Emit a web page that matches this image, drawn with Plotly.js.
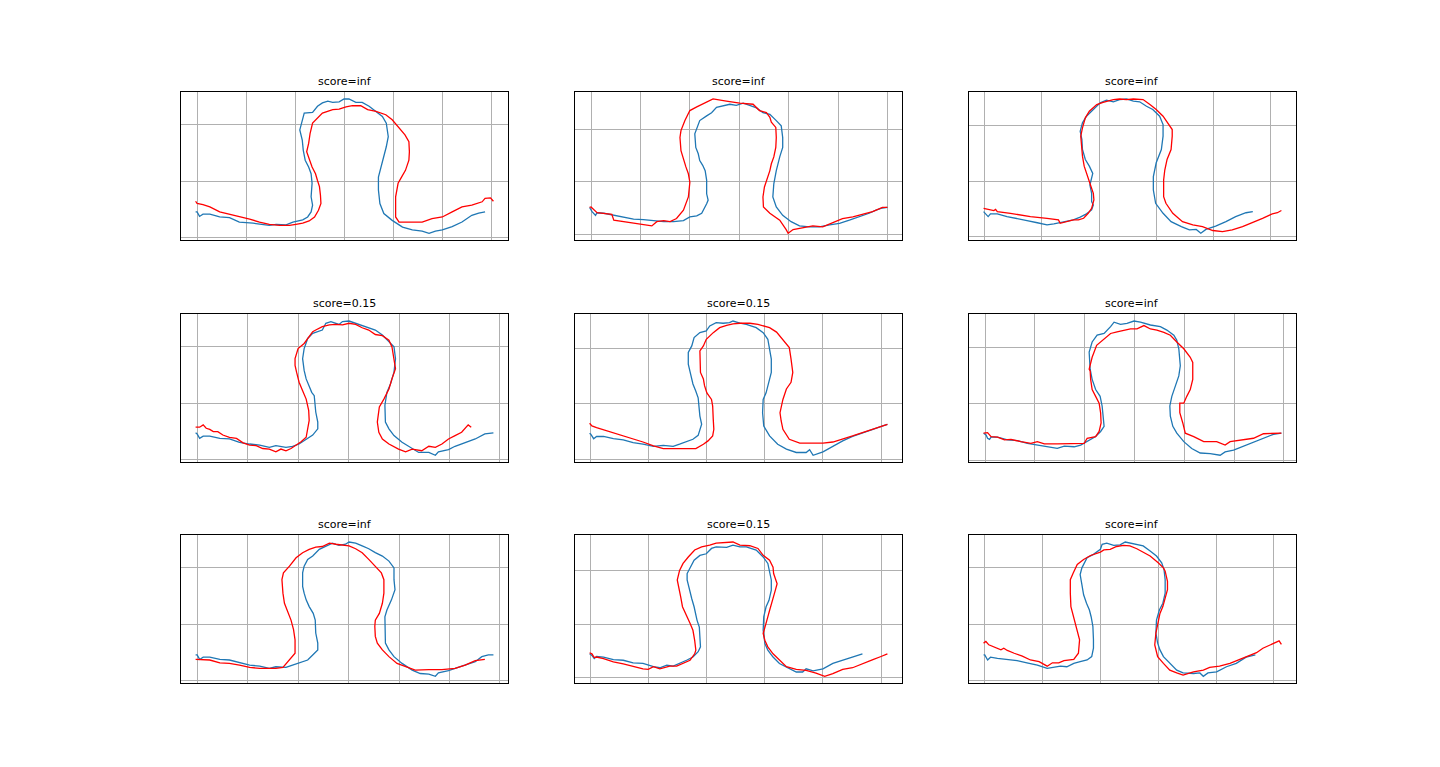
<!DOCTYPE html>
<html>
<head>
<meta charset="utf-8">
<script src="https://cdn.plot.ly/plotly-3.0.1.min.js"></script>
<style>html,body{margin:0;padding:0;background:#fff;}#chart{width:1440px;height:767px;}</style>
</head>
<body>
<div id="chart"></div>
<script>
// Titles of the nine panels
const titles = ["score=inf","score=inf","score=inf","score=0.15","score=0.15","score=inf","score=inf","score=0.15","score=inf"];

// Panel 1
const p1BlueX = [-0.03,0,0.05,0.12,0.26,0.46,0.66,0.86,1.14,1.34,1.47,1.61,1.81,1.95,2.15,2.25,2.32,2.35,2.32,2.34,2.32,2.27,2.20,2.16,2.14,2.09,2.14,2.18,2.35,2.45,2.55,2.66,2.76,2.89,2.99,3.09,3.23,3.36,3.50,3.64,3.77,3.85,3.89,3.85,3.80,3.74,3.69,3.69,3.72,3.80,3.97,4.18,4.38,4.58,4.72,4.85,4.99,5.19,5.39,5.59,5.73,5.86];
const p1BlueY = [0.45,0.45,0.37,0.41,0.41,0.36,0.35,0.27,0.25,0.23,0.21,0.23,0.22,0.27,0.31,0.36,0.45,0.57,0.72,0.96,1.13,1.25,1.37,1.55,1.73,1.91,2.09,2.21,2.22,2.33,2.39,2.42,2.40,2.41,2.46,2.46,2.40,2.40,2.33,2.24,2.15,2.03,1.79,1.61,1.43,1.25,1.07,0.84,0.60,0.42,0.30,0.18,0.13,0.11,0.07,0.11,0.13,0.19,0.27,0.39,0.43,0.45];
const p1RedX = [-0.03,0,0.12,0.26,0.46,0.66,0.86,1.07,1.27,1.47,1.68,1.88,2.01,2.15,2.28,2.39,2.47,2.52,2.51,2.49,2.45,2.41,2.34,2.28,2.23,2.27,2.30,2.35,2.45,2.55,2.76,2.89,3.03,3.16,3.33,3.47,3.64,3.84,3.97,4.11,4.23,4.31,4.32,4.31,4.24,4.16,4.09,4.04,4.04,4.11,4.31,4.58,4.78,4.99,5.19,5.39,5.59,5.80,5.86,5.97,6.03];
const p1RedY = [0.64,0.60,0.58,0.54,0.45,0.41,0.36,0.32,0.27,0.23,0.21,0.21,0.23,0.25,0.29,0.36,0.48,0.60,0.75,0.90,1.01,1.13,1.25,1.40,1.52,1.67,1.85,2.03,2.12,2.21,2.27,2.28,2.32,2.34,2.34,2.27,2.24,2.18,2.09,1.94,1.82,1.70,1.52,1.37,1.19,1.07,0.96,0.72,0.36,0.27,0.27,0.27,0.33,0.36,0.45,0.54,0.57,0.63,0.69,0.70,0.64];

// Panel 2
const p2BlueX = [-0.03,0.02,0.09,0.12,0.26,0.46,0.66,0.86,1.06,1.26,1.47,1.67,1.87,2.00,2.14,2.24,2.31,2.34,2.37,2.34,2.34,2.33,2.31,2.26,2.20,2.17,2.12,2.10,2.14,2.20,2.34,2.44,2.54,2.67,2.81,2.94,3.08,3.21,3.35,3.48,3.62,3.75,3.85,3.88,3.88,3.82,3.75,3.70,3.68,3.75,3.88,4.05,4.22,4.42,4.62,4.83,5.03,5.23,5.43,5.63,5.77,5.90,6.00];
const p2BlueY = [0.51,0.43,0.36,0.41,0.40,0.36,0.33,0.29,0.28,0.26,0.24,0.24,0.26,0.33,0.35,0.40,0.51,0.58,0.65,0.77,1.03,1.15,1.21,1.31,1.40,1.53,1.65,1.91,2.00,2.16,2.25,2.31,2.41,2.44,2.47,2.45,2.49,2.45,2.40,2.31,2.28,2.16,2.06,1.84,1.65,1.47,1.21,0.96,0.71,0.52,0.36,0.24,0.16,0.14,0.14,0.18,0.21,0.27,0.33,0.40,0.46,0.50,0.51];
const p2RedX = [-0.03,0,0.12,0.26,0.42,0.46,0.66,0.93,1.23,1.33,1.47,1.60,1.73,1.87,1.97,2.00,1.97,1.92,1.87,1.82,1.80,1.82,1.90,2.00,2.14,2.31,2.47,2.74,3.01,3.28,3.41,3.55,3.62,3.65,3.74,3.75,3.74,3.70,3.65,3.62,3.58,3.51,3.48,3.49,3.62,3.82,3.95,3.99,4.09,4.29,4.49,4.69,4.89,5.09,5.30,5.50,5.70,5.90,6.00];
const p2RedY = [0.51,0.52,0.41,0.40,0.38,0.27,0.24,0.21,0.16,0.24,0.26,0.24,0.30,0.46,0.71,0.99,1.15,1.28,1.43,1.59,1.84,1.97,2.16,2.35,2.42,2.50,2.57,2.53,2.49,2.47,2.35,2.31,2.22,2.13,2.03,1.84,1.65,1.47,1.34,1.21,1.09,0.90,0.71,0.52,0.40,0.27,0.09,0.02,0.09,0.13,0.16,0.14,0.22,0.30,0.33,0.38,0.43,0.51,0.51];

// Panel 3
const p3BlueX = [-0.02,0.02,0.06,0.10,0.22,0.39,0.57,0.74,0.92,1.09,1.21,1.32,1.44,1.55,1.67,1.78,1.87,1.90,1.87,1.87,1.84,1.89,1.83,1.76,1.71,1.70,1.67,1.71,1.78,1.90,2.02,2.13,2.25,2.36,2.48,2.60,2.71,2.83,2.94,3.06,3.12,3.12,3.09,3.00,2.95,2.95,2.99,3.12,3.26,3.44,3.58,3.70,3.78,3.87,4.04,4.22,4.39,4.57,4.69];
const p3BlueY = [0.45,0.41,0.36,0.41,0.41,0.36,0.33,0.29,0.25,0.21,0.23,0.25,0.27,0.30,0.35,0.41,0.48,0.57,0.63,0.78,0.93,1.14,1.27,1.39,1.57,1.75,1.90,2.05,2.17,2.29,2.41,2.46,2.43,2.47,2.48,2.44,2.43,2.35,2.29,2.17,2.02,1.81,1.57,1.33,1.08,0.84,0.60,0.42,0.27,0.18,0.12,0.13,0.06,0.13,0.19,0.27,0.36,0.43,0.45];
const p3RedX = [-0.02,0.10,0.16,0.19,0.22,0.45,0.80,1.09,1.29,1.32,1.44,1.55,1.64,1.73,1.81,1.87,1.91,1.90,1.85,1.80,1.74,1.71,1.70,1.68,1.71,1.76,1.83,1.96,2.07,2.25,2.36,2.48,2.60,2.77,2.89,3.00,3.12,3.20,3.28,3.28,3.26,3.19,3.15,3.13,3.13,3.17,3.29,3.46,3.64,3.81,3.99,4.16,4.33,4.51,4.68,4.86,5.03,5.12,5.19];
const p3RedY = [0.51,0.49,0.47,0.49,0.45,0.42,0.36,0.33,0.30,0.24,0.27,0.30,0.30,0.33,0.42,0.51,0.66,0.78,0.93,1.08,1.27,1.45,1.63,1.81,1.96,2.14,2.26,2.38,2.42,2.47,2.48,2.47,2.48,2.47,2.38,2.29,2.17,2.05,1.93,1.81,1.57,1.39,1.20,1.02,0.72,0.60,0.42,0.27,0.21,0.18,0.11,0.09,0.12,0.18,0.25,0.33,0.41,0.43,0.47];

// Panel 4
const p4BlueX = [-0.03,0,0.05,0.12,0.25,0.45,0.64,0.84,1.04,1.24,1.43,1.56,1.76,1.89,2.02,2.16,2.29,2.39,2.39,2.35,2.32,2.27,2.21,2.16,2.12,2.09,2.12,2.19,2.29,2.48,2.55,2.65,2.81,2.88,3.01,3.14,3.27,3.40,3.53,3.67,3.80,3.90,3.93,3.90,3.83,3.76,3.72,3.73,3.80,3.90,4.06,4.26,4.39,4.59,4.72,4.78,4.98,5.11,5.31,5.51,5.70,5.87];
const p4BlueY = [0.47,0.45,0.37,0.41,0.41,0.37,0.36,0.30,0.27,0.25,0.21,0.24,0.21,0.23,0.27,0.36,0.43,0.54,0.66,0.84,1.13,1.19,1.31,1.43,1.58,1.79,1.97,2.15,2.24,2.30,2.42,2.45,2.40,2.45,2.46,2.42,2.39,2.34,2.30,2.21,2.09,2.00,1.79,1.55,1.34,1.19,0.96,0.66,0.54,0.42,0.30,0.19,0.12,0.12,0.07,0.13,0.17,0.23,0.30,0.36,0.45,0.47];
const p4RedX = [-0.03,0.05,0.12,0.18,0.25,0.32,0.41,0.51,0.64,0.78,0.91,1.04,1.17,1.30,1.43,1.56,1.66,1.76,1.86,1.96,2.06,2.16,2.19,2.22,2.21,2.16,2.09,2.02,1.97,1.94,1.94,2.00,2.12,2.22,2.29,2.35,2.48,2.62,2.75,2.88,3.01,3.14,3.27,3.40,3.53,3.67,3.80,3.86,3.90,3.93,3.86,3.80,3.70,3.61,3.57,3.60,3.67,3.80,3.99,4.13,4.26,4.45,4.59,4.72,4.85,4.98,5.11,5.24,5.37,5.43];
const p4RedY = [0.57,0.57,0.61,0.55,0.53,0.49,0.49,0.43,0.39,0.37,0.29,0.25,0.24,0.19,0.18,0.13,0.18,0.15,0.19,0.25,0.31,0.39,0.54,0.69,0.87,1.07,1.22,1.37,1.55,1.67,1.79,1.97,2.06,2.18,2.27,2.30,2.36,2.39,2.40,2.39,2.42,2.40,2.34,2.30,2.22,2.20,2.12,2.00,1.79,1.61,1.43,1.25,1.07,0.93,0.66,0.48,0.36,0.27,0.18,0.13,0.18,0.15,0.23,0.21,0.27,0.36,0.42,0.48,0.61,0.57];

// Panel 5
const p5BlueX = [-0.02,0,0.05,0.10,0.22,0.39,0.56,0.73,0.90,1.08,1.25,1.42,1.53,1.65,1.76,1.85,1.88,1.91,1.88,1.87,1.85,1.81,1.76,1.72,1.68,1.68,1.74,1.78,1.88,1.99,2.05,2.16,2.28,2.39,2.45,2.57,2.68,2.85,2.97,3.05,3.08,3.11,3.11,3.07,3.02,2.97,2.96,2.98,3.08,3.22,3.37,3.54,3.71,3.77,3.83,4.00,4.17,4.34,4.51,4.68,4.86,5.03,5.11];
const p5BlueY = [0.47,0.45,0.37,0.41,0.41,0.37,0.35,0.30,0.27,0.23,0.25,0.23,0.27,0.31,0.36,0.43,0.54,0.63,0.78,0.96,1.11,1.23,1.36,1.54,1.72,1.93,2.05,2.20,2.29,2.32,2.41,2.47,2.46,2.47,2.50,2.46,2.44,2.38,2.29,2.17,2.02,1.81,1.57,1.39,1.20,1.08,0.84,0.60,0.42,0.27,0.18,0.12,0.12,0.17,0.07,0.13,0.23,0.33,0.41,0.48,0.54,0.60,0.63];
const p5RedX = [-0.02,0.02,0.10,0.22,0.39,0.56,0.73,0.90,1.08,1.25,1.53,1.81,1.94,2.02,2.10,2.12,2.11,2.10,2.08,2.00,1.96,1.94,1.89,1.88,1.88,1.94,1.99,2.11,2.22,2.34,2.45,2.57,2.74,2.88,2.97,3.08,3.20,3.31,3.42,3.45,3.48,3.45,3.37,3.31,3.26,3.28,3.31,3.42,3.60,3.77,4.00,4.17,4.34,4.51,4.68,4.86,5.03,5.11];
const p5RedY = [0.65,0.60,0.57,0.53,0.48,0.43,0.37,0.31,0.24,0.19,0.19,0.19,0.27,0.33,0.42,0.54,0.72,0.96,1.08,1.20,1.33,1.45,1.57,1.81,1.96,2.05,2.17,2.29,2.38,2.42,2.45,2.46,2.46,2.44,2.41,2.38,2.30,2.17,2.02,1.81,1.57,1.39,1.27,1.08,0.84,0.69,0.54,0.36,0.29,0.29,0.29,0.31,0.36,0.42,0.48,0.54,0.60,0.63];

// Panel 6
const p6BlueX = [-0.03,0.02,0.05,0.09,0.12,0.25,0.45,0.65,0.85,1.05,1.25,1.45,1.59,1.79,1.92,2.05,2.22,2.32,2.39,2.37,2.35,2.31,2.22,2.15,2.11,2.09,2.15,2.25,2.39,2.52,2.59,2.72,2.85,2.99,3.12,3.32,3.52,3.65,3.79,3.85,3.89,3.92,3.89,3.82,3.75,3.71,3.72,3.77,3.85,3.99,4.15,4.32,4.52,4.72,4.82,4.99,5.19,5.39,5.59,5.79,5.95];
const p6BlueY = [0.48,0.45,0.39,0.37,0.41,0.41,0.36,0.35,0.30,0.27,0.24,0.21,0.25,0.24,0.27,0.33,0.42,0.51,0.60,0.78,0.96,1.13,1.25,1.43,1.61,1.91,2.09,2.21,2.24,2.36,2.44,2.40,2.42,2.46,2.44,2.39,2.36,2.30,2.21,2.12,1.97,1.67,1.49,1.31,1.13,0.96,0.78,0.60,0.48,0.33,0.21,0.13,0.12,0.09,0.15,0.18,0.25,0.31,0.39,0.46,0.48];
const p6RedX = [-0.03,0.05,0.12,0.25,0.39,0.52,0.72,0.92,1.05,1.19,1.45,1.72,1.99,2.05,2.22,2.29,2.33,2.32,2.29,2.22,2.15,2.12,2.11,2.09,2.15,2.24,2.32,2.42,2.52,2.65,2.79,2.92,3.05,3.19,3.32,3.45,3.59,3.72,3.85,3.99,4.12,4.17,4.17,4.12,4.05,3.99,3.91,3.91,3.97,4.02,4.19,4.39,4.65,4.82,4.92,5.19,5.39,5.59,5.79,5.95];
const p6RedY = [0.48,0.49,0.42,0.41,0.36,0.37,0.33,0.30,0.33,0.29,0.29,0.29,0.30,0.39,0.42,0.51,0.66,0.84,1.01,1.13,1.25,1.43,1.58,1.61,1.82,2.03,2.09,2.15,2.24,2.27,2.30,2.32,2.32,2.38,2.32,2.30,2.26,2.21,2.09,1.97,1.82,1.73,1.43,1.25,1.13,1.01,1.01,0.84,0.66,0.48,0.42,0.33,0.33,0.27,0.33,0.36,0.39,0.47,0.48,0.48];

// Panel 7
const p7BlueX = [-0.03,0,0.05,0.12,0.25,0.45,0.64,0.84,1.04,1.24,1.43,1.56,1.76,1.89,2.02,2.19,2.29,2.39,2.39,2.35,2.34,2.30,2.22,2.16,2.12,2.09,2.09,2.12,2.19,2.29,2.42,2.55,2.68,2.81,2.94,3.01,3.14,3.27,3.40,3.53,3.67,3.80,3.90,3.90,3.92,3.85,3.76,3.72,3.72,3.73,3.80,3.90,4.06,4.26,4.42,4.59,4.72,4.78,4.98,5.11,5.31,5.51,5.64,5.77,5.87];
const p7BlueY = [0.45,0.45,0.37,0.41,0.41,0.37,0.36,0.31,0.27,0.25,0.21,0.24,0.23,0.27,0.31,0.36,0.45,0.54,0.66,0.84,1.07,1.19,1.31,1.43,1.55,1.67,1.91,2.03,2.15,2.21,2.33,2.39,2.44,2.40,2.42,2.46,2.44,2.39,2.34,2.27,2.21,2.12,2.00,1.79,1.61,1.43,1.25,1.13,0.84,0.66,0.54,0.42,0.30,0.18,0.12,0.11,0.07,0.13,0.17,0.21,0.27,0.33,0.42,0.45,0.45];
const p7RedX = [-0.03,0.12,0.25,0.45,0.64,0.84,1.04,1.24,1.43,1.56,1.70,1.79,1.89,1.94,1.94,1.91,1.86,1.79,1.73,1.70,1.68,1.71,1.83,1.96,2.09,2.22,2.35,2.48,2.62,2.75,2.88,3.01,3.14,3.27,3.40,3.53,3.65,3.70,3.70,3.67,3.61,3.53,3.52,3.53,3.57,3.67,3.80,3.96,4.13,4.32,4.59,4.85,5.11,5.31,5.51,5.60,5.70];
const p7RedY = [0.37,0.37,0.36,0.31,0.30,0.27,0.23,0.21,0.21,0.21,0.23,0.33,0.42,0.48,0.72,0.90,1.07,1.22,1.37,1.55,1.79,1.91,2.03,2.18,2.27,2.33,2.37,2.38,2.44,2.42,2.40,2.39,2.34,2.27,2.15,2.03,1.91,1.79,1.55,1.37,1.19,1.07,0.96,0.78,0.66,0.54,0.42,0.30,0.24,0.18,0.19,0.19,0.21,0.27,0.35,0.36,0.37];

// Panel 8
const p8BlueX = [-0.02,0.02,0.06,0.10,0.22,0.39,0.56,0.73,0.90,1.08,1.19,1.31,1.42,1.53,1.65,1.76,1.85,1.89,1.88,1.87,1.83,1.81,1.78,1.74,1.70,1.66,1.66,1.72,1.78,1.88,1.99,2.08,2.16,2.34,2.45,2.57,2.68,2.85,2.97,3.05,3.08,3.11,3.11,3.07,3.02,2.98,2.97,3.00,3.05,3.14,3.25,3.42,3.54,3.65,3.71,3.83,4.00,4.17,4.34,4.51,4.68];
const p8BlueY = [0.45,0.42,0.36,0.40,0.39,0.34,0.33,0.28,0.27,0.21,0.19,0.24,0.22,0.27,0.33,0.39,0.49,0.58,0.70,0.95,1.08,1.20,1.33,1.48,1.64,1.83,1.95,2.07,2.20,2.29,2.32,2.42,2.45,2.44,2.48,2.45,2.45,2.39,2.26,2.14,2.01,1.83,1.64,1.45,1.33,1.14,0.89,0.64,0.52,0.39,0.27,0.17,0.11,0.11,0.17,0.13,0.17,0.27,0.33,0.40,0.45];
const p8RedX = [-0.02,0.02,0.06,0.10,0.22,0.39,0.56,0.73,0.90,0.99,1.08,1.19,1.36,1.48,1.59,1.71,1.79,1.81,1.79,1.76,1.71,1.65,1.58,1.55,1.52,1.49,1.53,1.59,1.68,1.79,1.91,2.05,2.16,2.45,2.57,2.74,2.88,2.97,3.08,3.14,3.15,3.21,3.18,3.15,3.11,3.08,3.05,3.00,2.97,3.00,3.05,3.14,3.25,3.37,3.54,3.71,3.88,4.03,4.17,4.34,4.51,4.68,4.86,5.00,5.11];
const p8RedY = [0.47,0.45,0.38,0.39,0.36,0.30,0.26,0.21,0.17,0.16,0.21,0.17,0.22,0.22,0.27,0.33,0.45,0.52,0.70,0.89,1.02,1.17,1.33,1.51,1.70,1.83,2.01,2.14,2.26,2.39,2.45,2.48,2.52,2.54,2.48,2.47,2.42,2.29,2.20,2.07,1.95,1.76,1.64,1.51,1.39,1.26,1.14,0.95,0.83,0.70,0.58,0.45,0.33,0.21,0.16,0.14,0.09,0.03,0.08,0.16,0.19,0.27,0.34,0.40,0.45];

// Panel 9
const p9BlueX = [-0.02,0,0.05,0.10,0.22,0.39,0.56,0.73,0.91,1.08,1.19,1.31,1.42,1.54,1.65,1.77,1.85,1.88,1.88,1.87,1.84,1.81,1.76,1.71,1.68,1.65,1.68,1.77,1.88,2.00,2.03,2.11,2.23,2.34,2.43,2.51,2.63,2.74,2.86,2.97,3.06,3.10,3.12,3.12,3.08,3.02,2.97,2.96,2.99,3.03,3.09,3.20,3.32,3.43,3.61,3.72,3.78,3.86,4.01,4.18,4.35,4.52,4.68];
const p9BlueY = [0.45,0.45,0.36,0.41,0.39,0.37,0.35,0.31,0.27,0.21,0.23,0.25,0.24,0.30,0.33,0.36,0.42,0.57,0.72,0.96,1.13,1.25,1.37,1.52,1.70,1.88,2.00,2.18,2.24,2.33,2.42,2.44,2.40,2.41,2.46,2.44,2.42,2.39,2.30,2.21,2.09,1.97,1.79,1.55,1.37,1.25,1.07,0.84,0.66,0.54,0.42,0.30,0.18,0.13,0.12,0.13,0.07,0.13,0.15,0.24,0.30,0.41,0.45];
const p9RedX = [-0.02,0.02,0.07,0.16,0.28,0.33,0.39,0.51,0.65,0.79,0.94,1.08,1.17,1.28,1.37,1.54,1.62,1.64,1.61,1.57,1.53,1.49,1.48,1.48,1.53,1.60,1.71,1.83,2.00,2.06,2.17,2.28,2.40,2.51,2.63,2.74,2.86,3.00,3.09,3.12,3.16,3.16,3.12,3.08,3.03,2.99,2.96,2.94,2.99,3.09,3.20,3.32,3.43,3.61,3.78,3.89,4.06,4.24,4.41,4.58,4.70,4.81,4.93,5.01,5.09,5.13];
const p9RedY = [0.66,0.69,0.63,0.59,0.54,0.57,0.53,0.48,0.43,0.36,0.33,0.25,0.31,0.31,0.35,0.37,0.48,0.72,0.84,0.96,1.13,1.31,1.55,1.79,1.91,2.06,2.15,2.22,2.28,2.32,2.33,2.38,2.40,2.39,2.34,2.28,2.21,2.09,2.00,1.94,1.76,1.61,1.43,1.31,1.19,1.01,0.84,0.63,0.42,0.30,0.18,0.13,0.09,0.15,0.18,0.23,0.25,0.30,0.37,0.43,0.49,0.57,0.63,0.66,0.70,0.64];

const panels = [
  [p1BlueX,p1BlueY,p1RedX,p1RedY],
  [p2BlueX,p2BlueY,p2RedX,p2RedY],
  [p3BlueX,p3BlueY,p3RedX,p3RedY],
  [p4BlueX,p4BlueY,p4RedX,p4RedY],
  [p5BlueX,p5BlueY,p5RedX,p5RedY],
  [p6BlueX,p6BlueY,p6RedX,p6RedY],
  [p7BlueX,p7BlueY,p7RedX,p7RedY],
  [p8BlueX,p8BlueY,p8RedX,p8RedY],
  [p9BlueX,p9BlueY,p9RedX,p9RedY]
];

const colDomains = [[0.1255,0.353],[0.3991,0.6266],[0.6727,0.9002]];
const rowDomains = [[0.6871,0.8797],[0.3977,0.5902],[0.1095,0.3021]];

function padRange(arrs){
  let mn = Infinity, mx = -Infinity;
  arrs.forEach(a => a.forEach(v => { if (v < mn) mn = v; if (v > mx) mx = v; }));
  const m = (mx - mn) * 0.05;
  return [mn - m, mx + m];
}

const traces = [];
const layout = {
  width: 1440, height: 767,
  margin: {l:0, r:0, t:0, b:0},
  paper_bgcolor: '#ffffff', plot_bgcolor: '#ffffff',
  showlegend: false,
  font: {family: 'DejaVu Sans', color: '#000'},
  annotations: []
};

panels.forEach((p, i) => {
  const n = i + 1;
  const xa = n === 1 ? 'x' : 'x' + n;
  const ya = n === 1 ? 'y' : 'y' + n;
  traces.push({x: p[0], y: p[1], xaxis: xa, yaxis: ya, type: 'scatter', mode: 'lines',
               line: {color: '#1f77b4', width: 1.3}, hoverinfo: 'skip'});
  traces.push({x: p[2], y: p[3], xaxis: xa, yaxis: ya, type: 'scatter', mode: 'lines',
               line: {color: '#ff0000', width: 1.3}, hoverinfo: 'skip'});
  const r = Math.floor(i / 3), c = i % 3;
  const axCommon = {showticklabels: false, ticks: '', showgrid: true, gridcolor: '#b0b0b0', gridwidth: 1,
                    zeroline: false, showline: true, linecolor: '#000', linewidth: 1, mirror: true,
                    tick0: 0, dtick: 1, fixedrange: true};
  layout['xaxis' + (n === 1 ? '' : n)] = Object.assign({}, axCommon, {
    domain: colDomains[c], anchor: ya, range: padRange([p[0], p[2]])
  });
  layout['yaxis' + (n === 1 ? '' : n)] = Object.assign({}, axCommon, {
    domain: rowDomains[r], anchor: xa, range: padRange([p[1], p[3]])
  });
  layout.annotations.push({
    text: titles[i], xref: 'paper', yref: 'paper',
    x: (colDomains[c][0] + colDomains[c][1]) / 2, y: rowDomains[r][1],
    xanchor: 'center', yanchor: 'bottom', yshift: 2, showarrow: false,
    font: {family: 'DejaVu Sans', size: 11, color: '#000'}
  });
});

Plotly.newPlot('chart', traces, layout, {staticPlot: true, displayModeBar: false});
</script>
</body>
</html>
